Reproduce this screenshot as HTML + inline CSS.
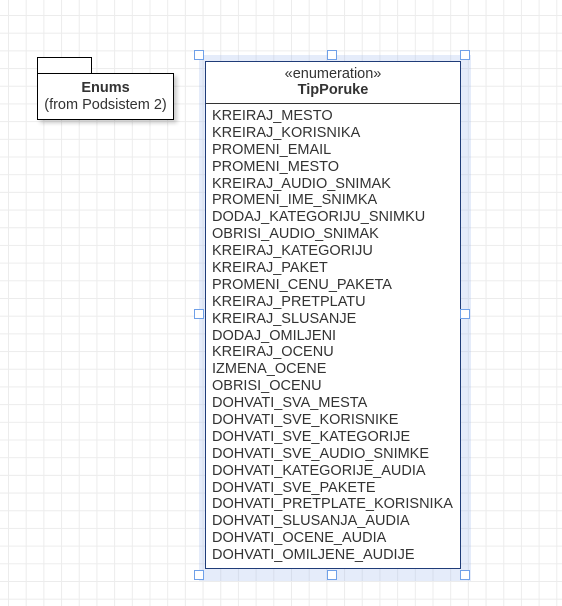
<!DOCTYPE html>
<html><head><style>
body{margin:0;width:562px;height:606px;overflow:hidden;background:#fff;font-family:"Liberation Sans",sans-serif;position:relative}
.grid{position:absolute;inset:0;background-image:linear-gradient(to right,#ececec 1px,transparent 1px),linear-gradient(to bottom,#ececec 1px,transparent 1px);background-size:17.7px 17.7px;background-position:8px 15px}
.abs{position:absolute;box-sizing:border-box}
.h{width:10px;height:10px;border:1px solid #6fa0e8;background:#fff;position:absolute;box-sizing:border-box}
.list div{height:16.9px;line-height:16.9px;white-space:nowrap}
</style></head><body>
<div class="grid"></div>
<div class="abs" style="left:37px;top:57px;width:55px;height:17px;border:1px solid #000;background:#fff"></div>
<div class="abs" style="left:37px;top:73px;width:137px;height:47px;border:1px solid #000;background:#fff;box-shadow:3px 3px 4px rgba(0,0,0,.2);text-align:center;font-size:14.5px;color:#333;padding-top:6px;line-height:17px"><b>Enums</b><br>(from Podsistem 2)</div>
<div class="abs" style="left:199px;top:55px;width:272px;height:526px;background:rgba(150,180,235,.25)"></div>
<div class="abs" style="left:205px;top:61px;width:256px;height:508px;border:1.5px solid #1f3c78;background:#fff;color:#333;font-size:14.5px">
<div style="height:42px;border-bottom:1px solid #333;text-align:center;line-height:16px;padding-top:4px;box-sizing:border-box">«enumeration»<br><b>TipPoruke</b></div>
<div class="list" style="padding:4px 0 0 6px">
<div>KREIRAJ_MESTO</div><div>KREIRAJ_KORISNIKA</div><div>PROMENI_EMAIL</div><div>PROMENI_MESTO</div><div>KREIRAJ_AUDIO_SNIMAK</div><div>PROMENI_IME_SNIMKA</div><div>DODAJ_KATEGORIJU_SNIMKU</div><div>OBRISI_AUDIO_SNIMAK</div><div>KREIRAJ_KATEGORIJU</div><div>KREIRAJ_PAKET</div><div>PROMENI_CENU_PAKETA</div><div>KREIRAJ_PRETPLATU</div><div>KREIRAJ_SLUSANJE</div><div>DODAJ_OMILJENI</div><div>KREIRAJ_OCENU</div><div>IZMENA_OCENE</div><div>OBRISI_OCENU</div><div>DOHVATI_SVA_MESTA</div><div>DOHVATI_SVE_KORISNIKE</div><div>DOHVATI_SVE_KATEGORIJE</div><div>DOHVATI_SVE_AUDIO_SNIMKE</div><div>DOHVATI_KATEGORIJE_AUDIA</div><div>DOHVATI_SVE_PAKETE</div><div>DOHVATI_PRETPLATE_KORISNIKA</div><div>DOHVATI_SLUSANJA_AUDIA</div><div>DOHVATI_OCENE_AUDIA</div><div>DOHVATI_OMILJENE_AUDIJE</div>
</div></div>
<div class="h" style="left:194px;top:50px"></div><div class="h" style="left:327px;top:50px"></div><div class="h" style="left:460px;top:50px"></div>
<div class="h" style="left:194px;top:309px"></div><div class="h" style="left:460px;top:309px"></div>
<div class="h" style="left:194px;top:570px"></div><div class="h" style="left:327px;top:570px"></div><div class="h" style="left:460px;top:570px"></div>
</body></html>
